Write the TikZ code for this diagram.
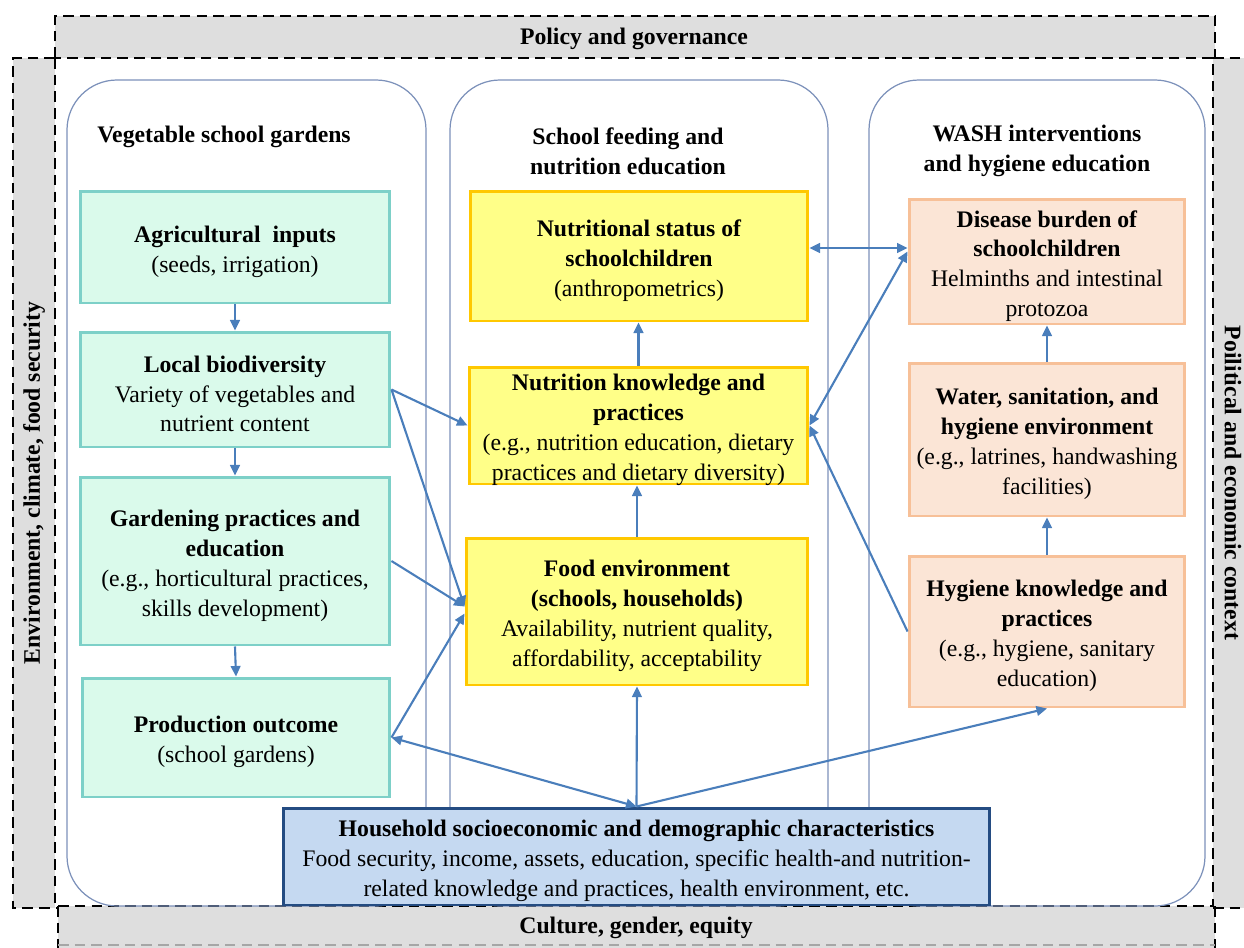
\documentclass[tikz,border=0pt]{standalone}
\usepackage{fontspec}
\setmainfont{Liberation Serif}
\usetikzlibrary{arrows.meta,calc}
\definecolor{bandgray}{RGB}{222,222,222}
\definecolor{panelline}{RGB}{124,145,186}
\definecolor{gfill}{RGB}{218,250,235}
\definecolor{gline}{RGB}{125,208,200}
\definecolor{yfill}{RGB}{255,255,136}
\definecolor{yline}{RGB}{255,200,0}
\definecolor{ofill}{RGB}{251,229,214}
\definecolor{oline}{RGB}{247,192,152}
\definecolor{hfill}{RGB}{197,217,241}
\definecolor{hline}{RGB}{36,76,130}
\definecolor{arrcol}{RGB}{74,126,187}
\tikzset{
  bandfill/.style={fill=bandgray, draw=none},
  dashline/.style={draw=black, line width=1.3pt, dash pattern=on 6pt off 3.5pt},
  panel/.style={draw=panelline, line width=0.7pt, rounded corners=1cm},
  box/.style={line width=1.7pt, inner sep=0pt, anchor=center},
  gbox/.style={box, fill=gfill, draw=gline},
  ybox/.style={box, fill=yfill, draw=yline},
  obox/.style={box, fill=ofill, draw=oline},
  hbox/.style={box, fill=hfill, draw=hline},
  txt/.style={align=center, inner sep=0pt, anchor=center},
  arr/.style={draw=arrcol, line width=1.2pt, -{Triangle[length=6pt,width=5.5pt]}},
  darr/.style={draw=arrcol, line width=1.2pt, {Triangle[length=6pt,width=5.5pt]}-{Triangle[length=6pt,width=5.5pt]}},
  ttl/.style={font=\fontsize{13.5}{17}\selectfont\bfseries, align=center}
}
\begin{document}
\begin{tikzpicture}[x=0.02cm,y=-0.02cm, font=\fontsize{13.5}{17}\selectfont]
\useasboundingbox (0,0) rectangle (1244,947);
% bands
\path[bandfill] (55,16) rectangle (1215,58);
\path[bandfill] (13,58) rectangle (55,908);
\path[bandfill] (1213,58) rectangle (1260,908);
\path[bandfill] (58,906) rectangle (1215,960);
\draw[dashline] (55,58) -- (55,16) -- (1215,16) -- (1215,58);
\draw[dashline] (55,58) -- (13,58) -- (13,908) -- (58,908);
\draw[dashline] (1213,58) -- (1250,58);
\draw[dashline] (1213,908) -- (1250,908);
\draw[dashline] (58,906) -- (58,950);
\draw[dashline] (1215,906) -- (1215,950);
\draw[draw=gray!70, line width=1pt, dash pattern=on 6pt off 3.5pt] (58,945) -- (1215,945);
\draw[dashline] (55,58) rectangle (1213,906);
\node[ttl] (policy) at (634,39) {Policy and governance};
\node[ttl] (culture) at (636,927.5) {Culture, gender, equity};
\node[ttl, rotate=90] (env) at (34,483) {Environment, climate, food security};
\node[ttl, rotate=-90] (polit) at (1233,483) {Poilitical and economic context};
% panels
\draw[panel] (67,906) -- (67,80) -- (426,80) -- (426,906) -- cycle;
\draw[panel] (450,906) -- (450,80) -- (828,80) -- (828,906) -- cycle;
\draw[panel] (869,906) -- (869,80) -- (1205,80) -- (1205,906) -- cycle;
\node[ttl] (t1) at (224,137) {Vegetable school gardens};
\node[ttl] (t2) at (628,151) {School feeding and\\nutrition education};
\node[ttl] (t3) at (1037,151) {WASH interventions\\and hygiene education};
% green boxes
\node[gbox, minimum width=6.2cm, minimum height=2.24cm] (g1) at (235,247) {};
\node[gbox, minimum width=6.2cm, minimum height=2.3cm] (g2) at (235,389.5) {};
\node[gbox, minimum width=6.2cm, minimum height=3.36cm] (g3) at (235,561) {};
\node[gbox, minimum width=6.16cm, minimum height=2.38cm] (g4) at (236,737.5) {};
% yellow boxes
\node[ybox, minimum width=6.76cm, minimum height=2.6cm] (y1) at (639,256) {};
\node[ybox, minimum width=6.78cm, minimum height=2.34cm] (y2) at (638.5,425.5) {};
\node[ybox, minimum width=6.84cm, minimum height=2.94cm] (y3) at (637,611.5) {};
% orange boxes
\node[obox, minimum width=5.52cm, minimum height=2.5cm] (o1) at (1047,261.5) {};
\node[obox, minimum width=5.52cm, minimum height=3.06cm] (o2) at (1047,439.5) {};
\node[obox, minimum width=5.52cm, minimum height=3.02cm] (o3) at (1047,631.5) {};
% household
\node[hbox, minimum width=14.14cm, minimum height=1.94cm] (hh) at (636.5,856.5) {};
% box texts
\node[txt] (g1t) at ([yshift=-0.09cm]g1.center) {\textbf{Agricultural\ \ inputs}\\(seeds, irrigation)};
\node[txt] (g2t) at ([yshift=-0.09cm]g2.center) {\textbf{Local biodiversity}\\Variety of vegetables and\\nutrient content};
\node[txt] (g3t) at ([yshift=-0.09cm]g3.center) {\textbf{Gardening practices and}\\\textbf{education}\\(e.g., horticultural practices,\\skills development)};
\node[txt] (g4t) at ([yshift=-0.09cm]g4.center) {\textbf{Production outcome}\\(school gardens)};
\node[txt] (y1t) at ([yshift=-0.09cm]y1.center) {\textbf{Nutritional status of}\\\textbf{schoolchildren}\\(anthropometrics)};
\node[txt] (y2t) at ([yshift=-0.09cm]y2.center) {\textbf{Nutrition knowledge and}\\\textbf{practices}\\(e.g., nutrition education, dietary\\practices and dietary diversity)};
\node[txt] (y3t) at ([yshift=-0.09cm]y3.center) {\textbf{Food environment}\\\textbf{(schools, households)}\\Availability, nutrient quality,\\affordability, acceptability};
\node[txt] (o1t) at ([yshift=-0.09cm]o1.center) {\textbf{Disease burden of}\\\textbf{schoolchildren}\\Helminths and intestinal\\protozoa};
\node[txt] (o2t) at ([yshift=-0.09cm]o2.center) {\textbf{Water, sanitation, and}\\\textbf{hygiene environment}\\(e.g., latrines, handwashing\\facilities)};
\node[txt] (o3t) at ([yshift=-0.09cm]o3.center) {\textbf{Hygiene knowledge and}\\\textbf{practices}\\(e.g., hygiene, sanitary\\education)};
\node[txt] (hht) at ([yshift=-0.08cm]hh.center) {\textbf{Household socioeconomic and demographic characteristics}\\Food security, income, assets, education, specific health-and nutrition-\\related knowledge and practices, health environment, etc.};
% arrows: gardens column
\draw[arr] (g1.south) -- (g2.north);
\draw[arr] (g2.south) -- (g3.north);
\draw[arr] (g3.south) -- (g4.north);
\draw[arr] (g2.east) -- (y2.west);
\draw[arr] (g2.east) -- ([yshift=0.1cm]y3.west);
\draw[arr] (g3.east) -- ([yshift=0.1cm]y3.west);
\draw[arr] (g4.east) -- ([yshift=-0.04cm]y3.west);
% household arrows
\draw[darr] (hh.north) -- (g4.east);
\draw[arr] (hh.north) -- (y3.south);
\draw[arr] (hh.north) -- (o3.south);
% feeding column
\draw[arr] (y3.north) -- (y3.north |- y2.south);
\draw[arr] (y2.north) -- (y2.north |- y1.south);
% WASH column
\draw[arr] (o3.north) -- (o2.south);
\draw[arr] (o2.north) -- (o1.south);
\draw[darr] ([yshift=0.16cm]y1.east) -- ([yshift=0.16cm]y1.east -| o1.west);
\draw[darr] ([yshift=0.2cm]o1.west) -- (y2.east);
\draw[arr] (o3.west) -- (y2.east);
\end{tikzpicture}
\end{document}
